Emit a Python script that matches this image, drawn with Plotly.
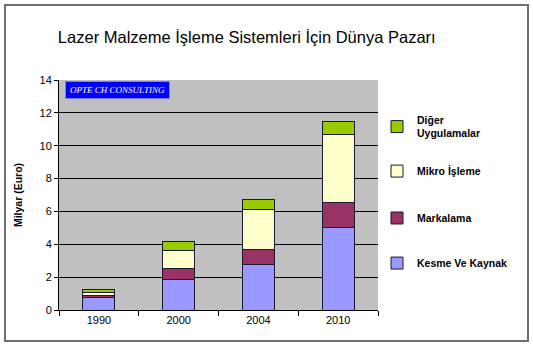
import plotly.graph_objects as go

years = ["1990", "2000", "2004", "2010"]
kesme = [0.75, 1.87, 2.78, 5.03]
markalama = [0.12, 0.65, 0.91, 1.54]
mikro = [0.21, 1.09, 2.40, 4.12]
diger = [0.14, 0.53, 0.61, 0.79]

series = [
    ("Kesme Ve Kaynak", kesme, "#9999FF", "legend4", 0.204),
    ("Markalama", markalama, "#993366", "legend3", 0.40),
    ("Mikro İşleme", mikro, "#FFFFCC", "legend2", 0.604),
    ("Diğer<br>Uygulamalar", diger, "#99CC00", "legend", 0.796),
]

fig = go.Figure()
for name, vals, col, lg, _ in series:
    fig.add_trace(go.Bar(
        x=years, y=vals, name=name, marker=dict(color=col, line=dict(color="#1a1a2e", width=1)),
        legend=lg,
    ))

FONT = "Arial, Liberation Sans, sans-serif"
legend_common = dict(x=(377 - 59) / 319, xanchor="left", yanchor="middle", bgcolor="rgba(0,0,0,0)",
                     font=dict(family=FONT, size=10.5, color="black", weight="bold"),
                     itemwidth=30)
lay = dict(
    width=533, height=346,
    margin=dict(l=59, r=155, t=80, b=36),
    paper_bgcolor="white", plot_bgcolor="#C0C0C0",
    barmode="stack", bargap=0.6,
    font=dict(family=FONT, size=11, color="black"),
    title=dict(text="Lazer Malzeme İşleme Sistemleri İçin Dünya Pazarı", xref="container",
               x=0.463, xanchor="center", y=1 - 37 / 346, yanchor="middle",
               font=dict(family=FONT, size=16.5, color="black")),
    xaxis=dict(type="category", tickson="boundaries", ticks="outside", ticklen=5,
               tickcolor="black", showline=True, linecolor="black", showgrid=False,
               tickfont=dict(size=11)),
    yaxis=dict(range=[0, 14], dtick=2, ticks="outside", ticklen=4, tickcolor="black",
               showline=True, linecolor="black", gridcolor="black", gridwidth=1,
               tickfont=dict(size=11), zeroline=False,
               title=dict(text="Milyar (Euro)", standoff=14,
                          font=dict(family=FONT, size=10.5, weight="bold"))),
    showlegend=True,
)
for name, vals, col, lg, yy in series:
    lay[lg] = dict(legend_common, y=yy)
fig.update_layout(**lay)

fig.add_annotation(xref="paper", yref="paper", x=(65 - 59) / 319, y=(310 - 81) / 230,
                   xanchor="left", yanchor="top", showarrow=False,
                   text="<i>OPTE CH CONSULTING</i>", bgcolor="#0000FF",
                   bordercolor="#8080ff", borderwidth=1, width=101, height=14,
                   font=dict(family="Times New Roman, Liberation Serif, serif", size=9, color="white"))

fig.add_shape(type="rect", xref="paper", yref="paper",
              x0=(5 - 59) / 319, x1=(528 - 59) / 319, y0=(310 - 341) / 230, y1=(310 - 5) / 230,
              line=dict(color="#707070", width=2), fillcolor="rgba(0,0,0,0)", layer="below")

fig.write_html("out.html")
